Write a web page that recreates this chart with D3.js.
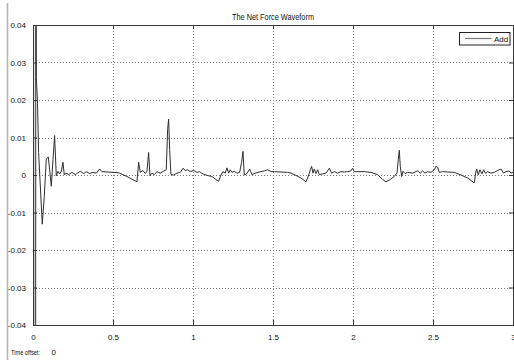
<!DOCTYPE html>
<html>
<head>
<meta charset="utf-8">
<script src="https://cdn.jsdelivr.net/npm/d3@7"></script>
<style>
  html, body { margin: 0; padding: 0; background: #ffffff; }
  svg { display: block; }
  text { font-family: "Liberation Sans", Arial, sans-serif; fill: #111; }
</style>
</head>
<body>
<svg id="chart" width="514" height="360"></svg>
<script>
// Scope trace of the net force signal (time in seconds, force value)
const time = [
  0, 0.003, 0.006, 0.016, 0.018, 0.021, 0.0285, 0.035, 0.058, 0.0706,
  0.0831, 0.0956, 0.104, 0.1144, 0.125, 0.135, 0.1456, 0.156, 0.1665, 0.177,
  0.1873, 0.1956, 0.205, 0.2227, 0.2435, 0.2644, 0.2956, 0.3164, 0.3331, 0.3539,
  0.3748, 0.3956, 0.4164, 0.431, 0.5352, 0.5873, 0.6185, 0.6498, 0.6602, 0.6706,
  0.6873, 0.7019, 0.7123, 0.7227, 0.731, 0.7435, 0.7581, 0.7748, 0.7956, 0.8164,
  0.8331, 0.8414, 0.8477, 0.8539, 0.8623, 0.8789, 0.8998, 0.9206, 0.9373, 0.9519,
  0.9664, 0.9831, 1.0039, 1.0248, 1.0414, 1.056, 1.0873, 1.1185, 1.1394, 1.1602,
  1.1748, 1.1873, 1.2019, 1.2123, 1.2227, 1.2331, 1.2435, 1.2581, 1.2748, 1.2914,
  1.3039, 1.3123, 1.3206, 1.3373, 1.3539, 1.3685, 1.3894, 1.4248, 1.4456, 1.4664,
  1.4873, 1.5081, 1.5498, 1.5914, 1.6123, 1.6435, 1.6748, 1.706, 1.7164, 1.7269,
  1.7331, 1.7414, 1.7498, 1.7581, 1.7685, 1.7789, 1.7894, 1.8102, 1.831, 1.8519,
  1.8664, 1.8831, 1.9039, 1.9248, 1.9456, 1.9664, 1.9873, 1.9977, 2.0081, 2.0706,
  2.1123, 2.1539, 2.1852, 2.206, 2.2331, 2.2581, 2.2748, 2.2831, 2.2894, 2.2956,
  2.3039, 2.3123, 2.3248, 2.3414, 2.3727, 2.4039, 2.4206, 2.4352, 2.4498, 2.4664,
  2.4873, 2.5081, 2.5185, 2.5289, 2.5394, 2.5602, 2.5914, 2.6331, 2.6748, 2.7164,
  2.7581, 2.7664, 2.7727, 2.7831, 2.7935, 2.806, 2.8164, 2.8289, 2.8414, 2.8623,
  2.8831, 2.9039, 2.9248, 2.9414, 2.956, 2.9769, 2.9873, 3.0
];
const force = [
  0, 0.09, -0.09, -0.09, 0.09, 0.026, 0.019, 0.006, -0.0131, -0.0057,
  0.0043, 0.0048, 0.0014, -0.003, 0.0041, 0.0105, -0.0002, 0.001, 0.0003, 0.001,
  0.0034, 0, 0.0005, 0.0001, 0.0007, 0.0001, 0.001, 0.0004, 0.0009, 0.0004,
  0.0007, 0.0005, 0.0016, 0.0009, 0.0006, -0.0004, -0.0011, -0.0018, 0.0034, 0.0007,
  0.0012, 0.0004, 0.001, 0.006, -0.0002, 0.0005, 0.0001, 0.0009, 0.0005, 0.001,
  0.0014, 0.0121, 0.0149, 0.0068, 0.0001, 0, 0.0005, 0.0007, 0.0018, 0.0012,
  0.0014, 0.0009, 0.0012, 0.0007, 0.0009, 0.0004, -0.0001, -0.0004, -0.0011, -0.0017,
  0, 0.0009, 0.0005, 0.0019, 0.0005, 0.0014, 0.0007, 0.001, 0.0005, 0.0007,
  0.0034, 0.0063, 0, 0.0004, 0.0016, 0.0001, 0.0005, 0.0009, 0.0011, 0.0014,
  0.0009, 0.0009, 0.0008, 0.0007, 0.0005, -0.0001, -0.0008, -0.0018, -0.0008, 0.0005,
  0.0014, 0.0023, 0.0005, 0.0016, 0.0004, 0.0014, 0.0001, 0.0003, 0.0005, 0.0018,
  0.0005, 0.0009, 0.0005, 0.0009, 0.0008, 0.0009, 0.0011, 0.0018, 0.0009, 0.0009,
  0.0007, 0.0001, -0.0012, -0.0018, -0.0012, -0.0004, 0.0005, 0.0041, 0.0066, 0.0023,
  -0.0004, 0.001, 0.0004, 0.0007, 0.0005, 0.0011, 0.0005, 0.0011, 0.0005, 0.0009,
  0.0007, 0.0014, 0.0023, 0.0021, 0.0007, 0.0009, 0.0008, 0.0007, 0, -0.0008,
  -0.0021, 0.0005, 0.0016, 0.0001, 0.0014, 0.0003, 0.0014, 0.0004, 0.0009, 0.0005,
  0.0007, 0.0012, 0.0016, 0.0005, 0.0009, 0.0011, 0.0005, 0.0007
];
const xTicks = [0, 0.5, 1, 1.5, 2, 2.5, 3];
const xTickLabels = ["0", "0.5", "1", "1.5", "2", "2.5", "3"];
const yTicks = [0.04, 0.03, 0.02, 0.01, 0, -0.01, -0.02, -0.03, -0.04];
const yTickLabels = ["0.04", "0.03", "0.02", "0.01", "0", "-0.01", "-0.02", "-0.03", "-0.04"];
const seriesName = "Add";
const title = "The Net Force Waveform";
const offsetLabel = "Time offset:";
const offsetValue = "0";

const svg = d3.select("#chart");
const plotL = 33, plotR = 513, plotT = 25, plotB = 325;

const x = d3.scaleLinear().domain([0, 3]).range([plotL, plotR]);
const y = d3.scaleLinear().domain([-0.04, 0.04]).range([plotB, plotT]);

// window edge strip
svg.append("line")
  .attr("x1", 7.5).attr("x2", 7.5).attr("y1", 3).attr("y2", 360)
  .attr("stroke", "#b4b4b4").attr("stroke-width", 1.6);

// plot background
svg.append("rect")
  .attr("x", plotL).attr("y", plotT)
  .attr("width", plotR - plotL).attr("height", plotB - plotT)
  .attr("fill", "#ffffff");

// dotted grid
const grid = svg.append("g").attr("stroke", "#7a7a7a").attr("stroke-width", 1)
  .attr("stroke-dasharray", "1,2").attr("shape-rendering", "crispEdges");
grid.selectAll(".gx").data(xTicks.slice(1, -1)).join("line")
  .attr("x1", d => Math.round(x(d)) + 0.5).attr("x2", d => Math.round(x(d)) + 0.5)
  .attr("y1", plotT).attr("y2", plotB);
grid.selectAll(".gy").data(yTicks.slice(1, -1)).join("line")
  .attr("x1", plotL).attr("x2", plotR)
  .attr("y1", d => Math.round(y(d)) + 0.5).attr("y2", d => Math.round(y(d)) + 0.5);

// signal trace
svg.append("clipPath").attr("id", "plotclip")
  .append("rect").attr("x", plotL).attr("y", plotT)
  .attr("width", plotR - plotL).attr("height", plotB - plotT);

const pts = time.map((t, i) => [t, force[i]]);
const line = d3.line().x(d => x(d[0])).y(d => y(d[1]));
svg.append("path")
  .datum(pts)
  .attr("clip-path", "url(#plotclip)")
  .attr("fill", "none")
  .attr("stroke", "#2e2e2e")
  .attr("stroke-width", 1)
  .attr("stroke-linejoin", "round")
  .attr("d", line);

// axes with inward ticks on all four sides
const fontSize = 8;
const axB = svg.append("g").attr("transform", `translate(0,${plotB})`)
  .call(d3.axisBottom(x).tickValues(xTicks).tickFormat((d, i) => xTickLabels[i])
    .tickSizeInner(-5).tickSizeOuter(0).tickPadding(9));
const axT = svg.append("g").attr("transform", `translate(0,${plotT})`)
  .call(d3.axisTop(x).tickValues(xTicks).tickFormat("").tickSizeInner(-4).tickSizeOuter(0));
const axL = svg.append("g").attr("transform", `translate(${plotL},0)`)
  .call(d3.axisLeft(y).tickValues(yTicks).tickFormat((d, i) => yTickLabels[i])
    .tickSizeInner(-4).tickSizeOuter(0).tickPadding(7));
const axR = svg.append("g").attr("transform", `translate(${plotR},0)`)
  .call(d3.axisRight(y).tickValues(yTicks).tickFormat("").tickSizeInner(-4).tickSizeOuter(0));

[axB, axT, axL, axR].forEach(g => {
  g.select(".domain").attr("stroke", "#333");
  g.selectAll(".tick line").attr("stroke", "#333");
  g.selectAll("text").attr("font-size", fontSize)
    .attr("font-family", "'Liberation Sans', Arial, sans-serif").attr("fill", "#111");
});
axL.select(".domain").attr("stroke", "#000");

// frame
svg.append("rect")
  .attr("x", plotL + 0.5).attr("y", plotT + 0.5)
  .attr("width", plotR - plotL).attr("height", plotB - plotT)
  .attr("fill", "none").attr("stroke", "#3a3a3a").attr("stroke-width", 1);

// title
svg.append("text")
  .attr("x", (plotL + plotR) / 2).attr("y", 20)
  .attr("text-anchor", "middle").attr("font-size", 8.5)
  .attr("textLength", 82).attr("lengthAdjust", "spacingAndGlyphs")
  .text(title);

// legend
const lg = svg.append("g");
lg.append("rect").attr("x", 459.5).attr("y", 32.5).attr("width", 50.5).attr("height", 12.5)
  .attr("fill", "#fff").attr("stroke", "#222");
lg.append("line").attr("x1", 465).attr("x2", 491.5).attr("y1", 38.5).attr("y2", 38.5)
  .attr("stroke", "#7a7a7a").attr("stroke-width", 1.2);
lg.append("text").attr("x", 494).attr("y", 41.8).attr("font-size", 8).text(seriesName);

// time offset readout
const offsetText = svg.append("text").attr("y", 354.5).attr("font-size", 8);
offsetText.append("tspan").attr("x", 11)
  .attr("textLength", 29).attr("lengthAdjust", "spacingAndGlyphs").text(offsetLabel);
offsetText.append("tspan").attr("x", 51.5).text(offsetValue);
</script>
</body>
</html>
